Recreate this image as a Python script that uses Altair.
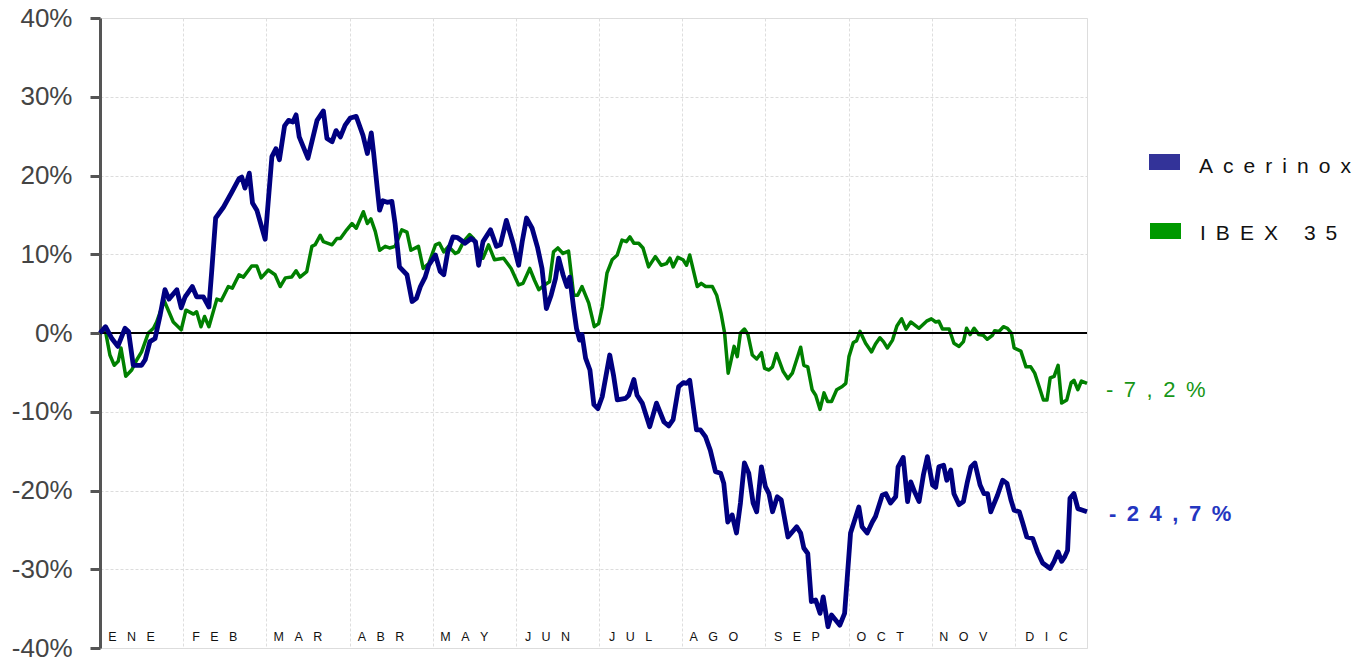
import altair as alt
import pandas as pd

# x = trading-day index from 1 January (21 trading days per month), y = % change since start of year
acerinox = [
    (0.0, 0.0), (1.4, 0.8), (3.0, -0.7), (4.5, -1.7), (6.3, 0.6), (7.2, 0.2), (8.4, -4.1), (10.5, -4.1),
    (11.4, -3.4), (12.6, -1.1), (13.9, -0.7), (15.2, 2.3), (16.4, 5.5), (17.4, 4.3), (19.4, 5.5), (20.5, 3.2),
    (21.5, 4.6), (23.3, 5.9), (24.4, 4.6), (26.1, 4.6), (27.5, 3.3), (28.2, 7.8), (29.2, 14.6), (31.2, 16.0),
    (33.3, 17.9), (35.1, 19.6), (35.8, 19.8), (36.6, 18.4), (37.7, 20.3), (38.5, 16.5), (39.6, 15.6), (41.7, 11.9),
    (43.4, 22.4), (44.4, 23.4), (45.3, 22.0), (46.6, 26.3), (47.6, 27.0), (48.7, 26.8), (49.5, 27.7), (50.3, 24.9),
    (52.5, 22.2), (54.8, 27.0), (56.4, 28.2), (57.3, 24.7), (58.6, 24.3), (59.6, 25.7), (60.7, 24.9), (61.9, 26.4),
    (63.2, 27.3), (64.7, 27.5), (66.4, 25.1), (67.5, 22.8), (68.5, 25.4), (69.1, 22.8), (70.1, 17.9), (70.6, 15.6),
    (71.4, 16.8), (72.5, 16.6), (73.7, 16.7), (74.5, 13.9), (75.6, 8.4), (77.5, 7.4), (78.8, 4.0), (79.9, 4.4),
    (80.9, 5.9), (82.1, 7.1), (83.0, 8.6), (84.7, 9.9), (85.9, 7.8), (86.8, 7.4), (87.8, 10.3), (89.1, 12.2),
    (90.3, 12.1), (92.2, 11.4), (93.7, 12.0), (94.8, 11.6), (95.6, 8.6), (96.7, 11.6), (98.6, 13.1), (100.1, 11.0),
    (101.1, 11.2), (102.6, 14.3), (104.3, 11.4), (105.7, 8.6), (106.6, 11.6), (107.7, 14.6), (109.1, 13.3),
    (110.5, 10.8), (111.6, 8.2), (112.7, 3.1), (113.9, 4.8), (115.0, 6.9), (115.8, 9.5), (116.9, 7.4), (117.9, 5.9),
    (118.6, 7.1), (119.6, 3.1), (120.3, 0.6), (121.1, -0.9), (121.7, -0.2), (122.6, -3.2), (123.7, -4.7),
    (124.7, -9.1), (125.7, -9.6), (126.8, -8.1), (128.7, -2.8), (129.7, -5.5), (130.6, -8.5), (132.7, -8.3),
    (133.5, -7.9), (134.8, -5.9), (135.6, -7.9), (136.9, -8.9), (138.8, -11.9), (140.5, -8.9), (142.4, -11.3),
    (143.6, -11.8), (144.7, -11.0), (146.1, -6.8), (147.3, -6.3), (148.1, -6.4), (148.9, -6.0), (150.6, -12.3),
    (151.6, -12.3), (152.9, -13.2), (154.1, -14.9), (155.4, -17.6), (156.7, -17.8), (157.5, -19.1), (158.5, -24.0),
    (159.6, -23.1), (160.7, -25.4), (161.7, -21.6), (162.7, -16.5), (163.8, -17.8), (164.9, -21.6), (165.8, -22.7),
    (167.0, -17.0), (168.0, -19.5), (168.9, -20.4), (169.8, -22.7), (171.0, -20.8), (172.0, -21.2), (173.7, -25.9),
    (175.9, -24.6), (176.9, -25.4), (177.7, -27.3), (178.7, -28.0), (179.6, -34.1), (180.7, -33.9), (181.8, -35.6),
    (182.6, -33.5), (183.8, -37.3), (184.7, -35.8), (186.8, -37.1), (188.0, -35.6), (189.5, -25.4), (191.6, -22.1),
    (192.4, -24.6), (193.7, -25.4), (195.0, -24.0), (195.8, -23.3), (197.5, -20.6), (198.4, -20.4), (199.6, -21.6),
    (200.9, -20.8), (201.5, -17.0), (202.8, -15.8), (203.9, -21.4), (204.7, -18.9), (205.7, -20.2), (206.8, -21.4),
    (207.9, -18.0), (208.9, -15.7), (210.2, -19.3), (211.0, -19.6), (211.8, -17.0), (213.0, -16.8), (213.8, -18.7),
    (214.8, -17.4), (215.6, -20.4), (216.9, -21.8), (218.0, -21.4), (219.0, -18.9), (219.9, -17.0), (220.9, -16.5),
    (222.2, -19.3), (223.2, -20.4), (224.1, -20.4), (224.9, -22.7), (226.6, -20.6), (227.9, -18.7), (229.0, -19.1),
    (230.0, -21.2), (230.8, -22.5), (232.1, -22.7), (232.9, -24.0), (234.0, -25.9), (235.5, -26.1), (236.7, -27.8),
    (238.0, -29.2), (239.9, -29.9), (240.9, -29.0), (241.9, -27.8), (242.8, -29.0), (243.6, -28.4), (244.3, -27.6),
    (244.9, -21.0), (245.9, -20.4), (246.9, -22.3), (248.1, -22.5), (249.2, -22.7),
]

ibex35 = [
    (0.0, 0.0), (1.4, 0.2), (2.5, -2.8), (3.6, -4.1), (4.6, -3.6), (5.3, -1.9), (6.5, -5.5), (8.0, -4.7),
    (9.3, -3.4), (10.5, -2.4), (12.2, 0.0), (13.5, 0.6), (14.3, 1.4), (16.2, 4.1), (17.4, 2.7), (18.5, 1.4),
    (20.5, 0.4), (21.7, 2.9), (23.6, 2.4), (24.4, 2.7), (25.5, 0.8), (26.4, 2.1), (27.5, 0.8), (29.5, 4.3),
    (30.6, 4.1), (32.4, 5.9), (33.4, 5.7), (35.1, 7.4), (36.2, 7.1), (38.3, 8.5), (39.6, 8.5), (40.7, 7.0),
    (42.5, 8.0), (44.2, 7.4), (45.5, 5.9), (46.8, 7.0), (48.4, 7.1), (49.5, 7.9), (50.5, 7.1), (52.2, 7.8),
    (53.5, 11.0), (54.3, 11.2), (55.6, 12.4), (56.4, 11.6), (58.6, 11.2), (59.8, 12.0), (60.7, 12.0), (62.3, 13.1),
    (63.6, 13.9), (64.7, 13.3), (66.5, 15.4), (67.5, 13.9), (68.4, 14.5), (69.5, 12.9), (70.6, 10.5), (72.0, 11.0),
    (73.1, 10.8), (74.5, 11.0), (76.2, 13.1), (77.5, 12.8), (78.5, 10.5), (80.4, 11.0), (81.6, 8.2), (83.0, 8.8),
    (84.7, 11.2), (85.7, 11.4), (86.8, 10.3), (88.0, 11.0), (89.7, 10.1), (90.5, 10.3), (91.8, 11.6), (93.3, 12.5),
    (94.3, 12.0), (95.6, 10.3), (96.7, 9.5), (98.1, 11.2), (99.6, 9.3), (101.9, 9.5), (103.8, 8.2), (105.7, 6.1),
    (106.8, 6.3), (108.5, 8.2), (109.7, 6.7), (110.8, 5.5), (112.2, 6.1), (113.5, 6.5), (114.5, 10.3), (115.6, 10.8),
    (116.9, 10.1), (118.3, 10.4), (119.6, 4.8), (120.6, 4.8), (121.7, 5.9), (123.4, 3.8), (124.8, 0.8), (125.9, 1.2),
    (126.8, 3.3), (128.0, 7.6), (129.3, 9.3), (130.6, 9.9), (131.8, 11.8), (132.9, 11.6), (133.8, 12.2),
    (134.8, 11.4), (136.0, 11.4), (137.1, 10.8), (138.5, 8.4), (140.2, 9.7), (141.7, 8.6), (143.0, 8.8),
    (143.9, 9.5), (144.7, 8.4), (145.9, 9.6), (147.2, 9.3), (148.1, 8.6), (148.9, 9.9), (150.8, 5.9), (151.8, 6.3),
    (152.9, 5.9), (154.6, 5.9), (155.7, 4.8), (156.8, 2.5), (157.7, 0.0), (158.6, -5.1), (159.2, -3.8),
    (160.1, -1.7), (160.9, -3.0), (161.7, 0.0), (162.7, 0.5), (163.6, -0.2), (164.7, -2.8), (165.8, -3.3),
    (167.0, -2.5), (167.8, -4.5), (168.9, -4.7), (169.8, -4.3), (170.8, -2.6), (172.5, -4.9), (173.7, -5.8),
    (174.8, -5.1), (176.9, -1.8), (177.7, -4.1), (178.7, -4.3), (179.8, -7.2), (180.7, -7.9), (181.8, -9.7),
    (182.8, -7.6), (183.7, -8.7), (184.7, -8.7), (186.0, -7.2), (187.4, -6.8), (188.3, -6.4), (189.1, -3.0),
    (190.2, -1.2), (191.0, -1.0), (191.9, 0.2), (193.3, -1.3), (194.8, -2.4), (195.8, -1.4), (196.9, -0.6),
    (197.8, -1.1), (198.8, -1.9), (200.1, -0.9), (201.2, 0.9), (202.4, 1.8), (203.5, 0.5), (204.7, 1.4),
    (206.8, 0.6), (208.7, 1.5), (209.9, 1.8), (211.0, 1.4), (211.8, 1.5), (212.7, 0.5), (214.4, 0.5),
    (215.6, -1.3), (216.9, -1.7), (218.0, -1.1), (218.8, 0.6), (219.7, -0.2), (220.7, 0.6), (221.9, -0.2),
    (223.0, -0.3), (224.0, -0.8), (225.3, -0.3), (225.9, 0.3), (227.0, 0.2), (228.1, 0.8), (229.1, 0.6),
    (230.1, 0.0), (230.8, -1.9), (232.5, -2.3), (233.8, -4.3), (235.0, -4.3), (236.0, -5.1), (237.1, -6.8),
    (238.2, -8.5), (239.1, -8.5), (239.9, -5.7), (240.9, -5.5), (241.9, -4.1), (242.8, -8.9), (244.1, -8.5),
    (245.2, -6.3), (245.9, -6.0), (246.9, -7.2), (247.8, -6.1), (249.2, -6.4),
]

months = ["ENE", "FEB", "MAR", "ABR", "MAY", "JUN", "JUL", "AGO", "SEP", "OCT", "NOV", "DIC"]
series_names = ["Acerinox", "IBEX 35"]
end_labels = ["-24,7%", "-7,2%"]
y_ticks = [-40, -30, -20, -10, 0, 10, 20, 30, 40]

DAYS_PER_MONTH = 21
X_MAX = 249.2
FONT = "Liberation Sans"
BLUE_LINE, GREEN_LINE = "#000080", "#008000"
BLUE_KEY, GREEN_KEY = "#333399", "#009900"
BLUE_TXT, GREEN_TXT = "#2436c0", "#179617"


def spaced(s, sep):
    return sep.join("\u00a0" if ch == " " else ch for ch in s)


WIDE = "\u00a0\u2009"
MONTH_SEP = "\u00a0\u00a0\u00a0"

acx_df = pd.DataFrame(acerinox, columns=["day", "value"])
ibex_df = pd.DataFrame(ibex35, columns=["day", "value"])
month_df = pd.DataFrame({
    "mday": [DAYS_PER_MONTH * i + DAYS_PER_MONTH / 2 for i in range(len(months))],
    "label": [spaced(m, MONTH_SEP) for m in months],
})

x_scale = alt.Scale(domain=[0, X_MAX], nice=False, zero=False)
y_scale = alt.Scale(domain=[-40, 40], nice=False)

x_axis = alt.Axis(values=[DAYS_PER_MONTH * k for k in range(1, 12)], labels=False, ticks=False,
                  domain=False, grid=True, gridColor="#dedede", gridDash=[3, 2], gridWidth=1, title=None)
y_axis = alt.Axis(values=y_ticks, labelExpr="datum.value + '%'", labelFontSize=26, labelColor="#444444",
                  labelFont=FONT, labelPadding=18, tickSize=10, tickWidth=3, tickColor="#555555",
                  domainColor="#555555", domainWidth=3, grid=True, gridColor="#dcdcdc", gridDash=[3, 2],
                  gridWidth=1, title=None)

green_line = alt.Chart(ibex_df).mark_line(color=GREEN_LINE, strokeWidth=3.5, strokeJoin="round").encode(
    x=alt.X("day:Q", scale=x_scale, axis=x_axis),
    y=alt.Y("value:Q", scale=y_scale, axis=y_axis),
)
blue_line = alt.Chart(acx_df).mark_line(color=BLUE_LINE, strokeWidth=4.8, strokeJoin="round").encode(
    x=alt.X("day:Q"),
    y=alt.Y("value:Q"),
)

zero_rule = alt.Chart(pd.DataFrame({"v": [0]})).mark_rule(color="black", strokeWidth=2).encode(
    y=alt.Y("v:Q"),
)

month_text = alt.Chart(month_df).mark_text(
    font=FONT, fontSize=12.5, color="#111111", align="center", baseline="alphabetic", dx=-10
).encode(
    x=alt.X("mday:Q"),
    y=alt.datum(-39.1),
    text="label:N",
)

# end-of-year labels
green_end = alt.Chart(pd.DataFrame({"d": [ibex35[-1][0]], "v": [ibex35[-1][1]], "t": [spaced(end_labels[1], WIDE)]})).mark_text(
    font=FONT, fontSize=22, color=GREEN_TXT, align="left", baseline="middle", dx=19, dy=7
).encode(x="d:Q", y="v:Q", text="t:N")
blue_end = alt.Chart(pd.DataFrame({"d": [acerinox[-1][0]], "v": [acerinox[-1][1]], "t": [spaced(end_labels[0], WIDE)]})).mark_text(
    font=FONT, fontSize=22, fontWeight="bold", color=BLUE_TXT, align="left", baseline="middle", dx=22, dy=2
).encode(x="d:Q", y="v:Q", text="t:N")

# legend
key_df = pd.DataFrame({"name": series_names})
blue_key = alt.Chart(key_df.iloc[[0]]).mark_rect(color=BLUE_KEY).encode(
    x=alt.value(1049), x2=alt.value(1080), y=alt.value(136), y2=alt.value(152))
green_key = alt.Chart(key_df.iloc[[1]]).mark_rect(color=GREEN_KEY).encode(
    x=alt.value(1050), x2=alt.value(1081), y=alt.value(205), y2=alt.value(221))
blue_key_txt = alt.Chart(key_df.iloc[[0]]).mark_text(
    font=FONT, fontSize=21, color="#111111", align="left", baseline="alphabetic").encode(
    x=alt.value(1099), y=alt.value(155), text=alt.value(spaced(series_names[0], WIDE)))
green_key_txt = alt.Chart(key_df.iloc[[1]]).mark_text(
    font=FONT, fontSize=21, color="#111111", align="left", baseline="alphabetic").encode(
    x=alt.value(1100), y=alt.value(222), text=alt.value(spaced(series_names[1], WIDE)))

chart = alt.layer(
    green_line, zero_rule, blue_line, month_text, green_end, blue_end,
    blue_key, green_key, blue_key_txt, green_key_txt,
).properties(
    width=987, height=630,
    padding={"left": 92, "top": 10, "right": 267, "bottom": 10},
    autosize=alt.AutoSizeParams(type="none"),
).configure_view(strokeWidth=0).configure(background="white")

chart.save("out.html", embed_options={"renderer": "svg", "actions": False})
